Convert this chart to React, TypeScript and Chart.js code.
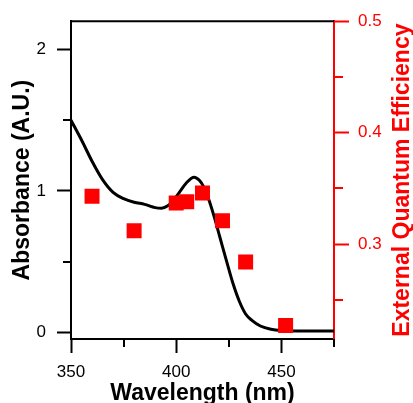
import React, { useEffect, useRef } from "react";
import { Chart, registerables } from "chart.js";

Chart.register(...registerables);

// Absorption spectrum (nm → A.U.)
const wavelengths = [
  350, 355, 360, 365, 370, 375, 380, 385, 390, 393, 396, 399, 402, 405, 408.5,
  411, 413, 415, 418, 421, 424, 427, 430, 433, 436, 440, 445, 450, 460, 475,
];
const absorbance = [
  1.5, 1.36, 1.21, 1.08, 0.99, 0.945, 0.92, 0.905, 0.882, 0.878, 0.895, 0.94,
  1.0, 1.06, 1.097, 1.075, 1.03, 0.96, 0.82, 0.66, 0.5, 0.345, 0.22, 0.13,
  0.085, 0.045, 0.022, 0.013, 0.01, 0.01,
];

// External quantum efficiency measurements
const eqeWavelengths = [360, 380, 400, 405, 412.5, 422, 433, 452];
const eqeValues = [0.343, 0.312, 0.337, 0.338, 0.346, 0.321, 0.284, 0.227];

// Axis ticks
const xTicks = [350, 400, 450];
const xMinorTicks = [375, 425, 475];
const absTicks = [0, 1, 2];
const absMinorTicks = [0.5, 1.5];
const eqeTicks = [0.3, 0.4, 0.5];
const eqeMinorTicks = [0.25, 0.35, 0.45];

const FONT = "'Liberation Sans', Arial, Helvetica, sans-serif";
const RED = "#ff0000";
const BLACK = "#000000";

// Frame top edge, minor ticks and axis titles
const framePlugin = {
  id: "frameAndTitles",
  afterDraw(chart: any) {
    const { ctx, chartArea } = chart;
    const { left, right, top, bottom } = chartArea;
    const xs = chart.scales.x;
    const ys = chart.scales.y;
    const y2s = chart.scales.y2;
    ctx.save();
    ctx.lineWidth = 2;
    ctx.lineCap = "butt";

    ctx.strokeStyle = BLACK;
    ctx.beginPath();
    ctx.moveTo(left - 1, top);
    ctx.lineTo(right, top);
    ctx.stroke();

    ctx.beginPath();
    xMinorTicks.forEach((v) => {
      const p = Math.round(xs.getPixelForValue(v));
      ctx.moveTo(p, bottom);
      ctx.lineTo(p, bottom + 8);
    });
    absMinorTicks.forEach((v) => {
      const p = Math.round(ys.getPixelForValue(v));
      ctx.moveTo(left, p);
      ctx.lineTo(left - 8, p);
    });
    ctx.stroke();

    ctx.strokeStyle = RED;
    ctx.beginPath();
    eqeMinorTicks.forEach((v) => {
      const p = Math.round(y2s.getPixelForValue(v));
      ctx.moveTo(right, p);
      ctx.lineTo(right + 9, p);
    });
    ctx.stroke();

    ctx.font = `bold 23px ${FONT}`;
    ctx.textAlign = "center";
    ctx.textBaseline = "alphabetic";
    ctx.fillStyle = BLACK;
    ctx.fillText("Wavelength (nm)", (left + right) / 2, 399.5);

    const midY = (top + bottom) / 2;
    ctx.save();
    ctx.translate(29, midY);
    ctx.rotate(-Math.PI / 2);
    ctx.fillText("Absorbance (A.U.)", 0, 0);
    ctx.restore();

    ctx.fillStyle = RED;
    ctx.save();
    ctx.translate(408.5, midY);
    ctx.rotate(-Math.PI / 2);
    ctx.fillText("External Quantum Efficiency", 0, 0);
    ctx.restore();

    ctx.restore();
  },
};

const tickFont = { family: FONT, size: 17 };

export default function App() {
  const canvasRef = useRef<HTMLCanvasElement | null>(null);

  useEffect(() => {
    const canvas = canvasRef.current;
    if (!canvas) return;

    const chart = new Chart(canvas, {
      type: "scatter",
      data: {
        datasets: [
          {
            label: "EQE",
            data: eqeWavelengths.map((x, i) => ({ x, y: eqeValues[i] })),
            yAxisID: "y2",
            pointStyle: "rect",
            pointRadius: 10.6,
            pointHoverRadius: 10.6,
            backgroundColor: RED,
            borderWidth: 0,
            showLine: false,
            order: 0,
          },
          {
            label: "Absorbance",
            data: wavelengths.map((x, i) => ({ x, y: absorbance[i] })),
            yAxisID: "y",
            showLine: true,
            borderColor: BLACK,
            borderWidth: 3,
            pointRadius: 0,
            pointHoverRadius: 0,
            cubicInterpolationMode: "monotone",
            fill: false,
            order: 1,
          },
        ],
      },
      options: {
        responsive: false,
        animation: false,
        devicePixelRatio: 1,
        layout: { padding: { top: 19, left: 0, right: 0, bottom: 0 } },
        plugins: {
          legend: { display: false },
          title: { display: false },
          tooltip: { enabled: false },
        },
        events: [],
        scales: {
          x: {
            type: "linear",
            position: "bottom",
            min: 350,
            max: 475,
            afterBuildTicks: (s: any) => {
              s.ticks = xTicks.map((value) => ({ value }));
            },
            afterFit: (s: any) => {
              s.height = 64;
            },
            ticks: {
              font: tickFont,
              color: BLACK,
              padding: 9,
              maxRotation: 0,
              autoSkip: false,
              callback: (v: any) => String(v),
            },
            grid: {
              display: true,
              drawOnChartArea: false,
              drawTicks: true,
              tickLength: 14,
              tickWidth: 2,
              tickColor: BLACK,
            },
            border: { display: true, color: BLACK, width: 2 },
          },
          y: {
            type: "linear",
            position: "left",
            min: -0.047,
            max: 2.2,
            afterBuildTicks: (s: any) => {
              s.ticks = absTicks.map((value) => ({ value }));
            },
            afterFit: (s: any) => {
              s.width = 71;
            },
            ticks: {
              font: tickFont,
              color: BLACK,
              padding: 11,
              autoSkip: false,
              callback: (v: any) => String(v),
            },
            grid: {
              display: true,
              drawOnChartArea: false,
              drawTicks: true,
              tickLength: 14,
              tickWidth: 2,
              tickColor: BLACK,
            },
            border: { display: true, color: BLACK, width: 2 },
          },
          y2: {
            type: "linear",
            position: "right",
            min: 0.215,
            max: 0.5,
            afterBuildTicks: (s: any) => {
              s.ticks = eqeTicks.map((value) => ({ value }));
            },
            afterFit: (s: any) => {
              s.width = 79;
            },
            ticks: {
              font: tickFont,
              color: RED,
              padding: 9,
              autoSkip: false,
              callback: (v: any) => String(v),
            },
            grid: {
              display: true,
              drawOnChartArea: false,
              drawTicks: true,
              tickLength: 15,
              tickWidth: 2,
              tickColor: RED,
            },
            border: { display: true, color: RED, width: 2 },
          },
        },
      },
      plugins: [framePlugin],
    } as any);

    return () => {
      chart.destroy();
    };
  }, []);

  return (
    <div
      style={{
        position: "fixed",
        left: 0,
        top: 0,
        width: 413,
        height: 403,
        background: "#ffffff",
      }}
    >
      <canvas ref={canvasRef} width={413} height={403} />
    </div>
  );
}
